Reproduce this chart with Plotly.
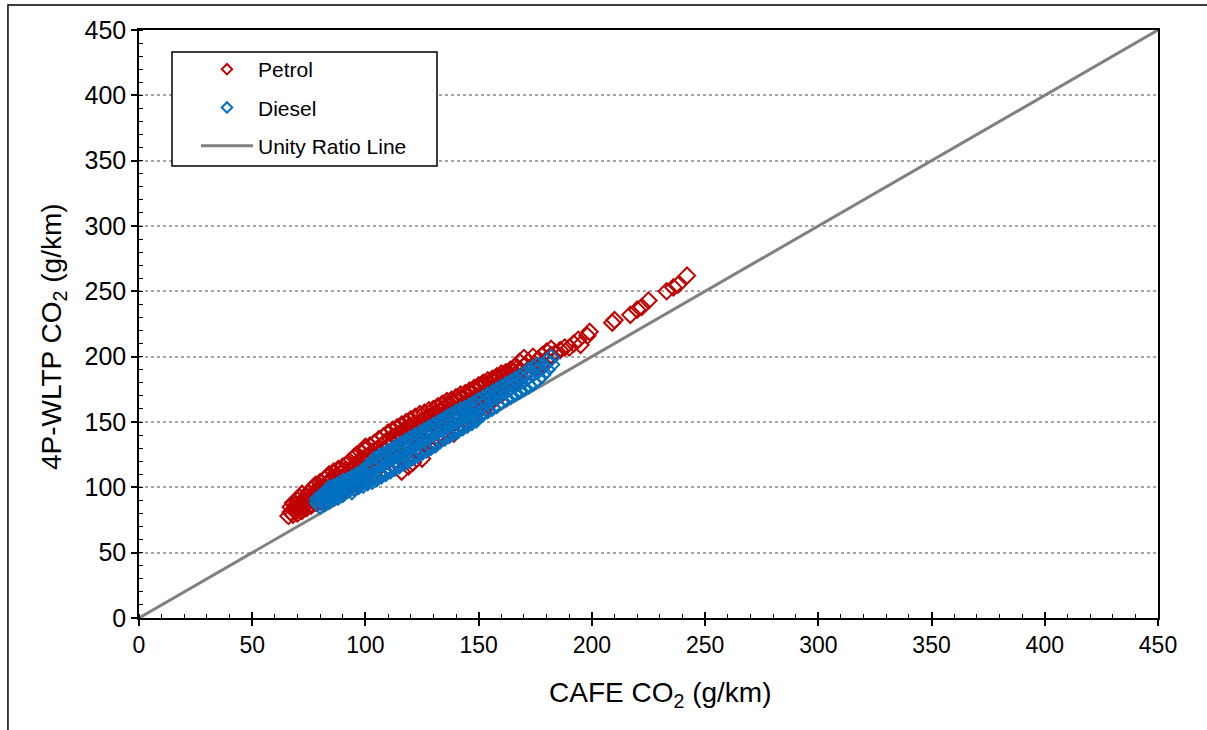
import plotly.graph_objects as go

# Petrol: CAFE CO2 (x) vs 4P-WLTP CO2 (y), g/km
petrol_x = [66, 67, 67, 68, 68, 69, 69, 70, 70, 70,
            71, 71, 72, 72, 72, 73, 73, 74, 74, 74,
            75, 75, 76, 76, 76, 77, 77, 78, 78, 78,
            79, 79, 80, 80, 80, 81, 81, 82, 82, 82,
            83, 83, 84, 84, 84, 85, 85, 86, 86, 86,
            87, 87, 88, 88, 88, 89, 89, 90, 90, 90,
            91, 91, 92, 92, 92, 93, 93, 94, 94, 94,
            95, 95, 96, 96, 96, 97, 97, 98, 98, 98,
            99, 99, 100, 100, 100, 100, 101, 101, 102, 102, 102,
            103, 103, 104, 104, 104, 105, 105, 106, 106, 106,
            107, 107, 108, 108, 108, 109, 109, 110, 110, 110,
            111, 111, 112, 112, 112, 113, 113, 114, 114, 114,
            115, 115, 116, 116, 116, 116, 117, 117, 118, 118, 118,
            119, 119, 120, 120, 120, 121, 121, 121, 122, 122,
            123, 123, 124, 124, 124, 125, 125, 126, 126, 126,
            127, 127, 128, 128, 128, 129, 129, 130, 130, 130,
            131, 131, 132, 132, 132, 133, 133, 134, 134, 134,
            135, 135, 136, 136, 136, 137, 137, 138, 138, 138,
            139, 139, 140, 140, 140, 141, 141, 142, 142, 142,
            143, 143, 144, 144, 144, 145, 145, 146, 146, 146,
            147, 147, 148, 148, 148, 149, 149, 150, 150, 150,
            151, 151, 152, 152, 152, 153, 153, 154, 154, 154,
            155, 155, 156, 156, 156, 157, 157, 158, 158, 158,
            159, 159, 160, 160, 160, 161, 161, 162, 162, 162,
            163, 163, 164, 164, 164, 165, 165, 166, 166, 166,
            167, 167, 168, 168, 168, 170, 170, 170, 172, 172,
            174, 174, 174, 176, 176, 178, 178, 180, 180, 182, 182,
            184, 186, 188,
            190, 192, 194, 195, 198, 199, 209, 210, 217, 220,
            222, 225, 233, 236, 238, 242]
petrol_y = [78, 81, 85, 79, 88, 83, 86, 80, 90, 85,
            84, 92, 87, 82, 95, 90, 85, 93, 88, 84,
            96, 89, 91, 98, 86, 94, 100, 88, 97, 102,
            92, 99, 95, 104, 89, 100, 93, 106, 97, 91,
            102, 108, 95, 104, 110, 99, 107, 112, 102, 96,
            105, 109, 114, 100, 107, 111, 103, 116, 98, 108,
            113, 105, 118, 101, 110, 120, 107, 115, 104, 112,
            123, 109, 117, 103, 125, 112, 120, 127, 106, 116,
            122, 114, 129, 108, 118, 131, 124, 113, 132, 116, 121,
            110, 127, 134, 119, 124, 129, 114, 137, 121, 126,
            117, 132, 139, 124, 129, 120, 135, 142, 126, 131,
            137, 122, 144, 128, 134, 120, 139, 146, 131, 136,
            125, 141, 148, 112, 133, 138, 129, 144, 150, 135, 140,
            116, 146, 152, 131, 141, 119, 137, 148, 154, 143,
            128, 149, 156, 139, 145, 122, 151, 157, 134, 147,
            141, 153, 159, 131, 149, 144, 155, 160, 133, 151,
            138, 157, 162, 146, 153, 140, 159, 164, 149, 155,
            143, 161, 166, 152, 158, 146, 163, 167, 155, 160,
            141, 165, 169, 150, 158, 145, 167, 171, 153, 162,
            148, 169, 172, 157, 164, 151, 171, 174, 160, 166,
            154, 173, 176, 163, 168, 157, 175, 178, 160, 170,
            165, 177, 180, 158, 172, 168, 179, 182, 163, 174,
            170, 180, 183, 166, 176, 172, 182, 185, 169, 178,
            174, 184, 187, 171, 180, 176, 186, 188, 174, 182,
            179, 188, 190, 177, 184, 182, 189, 192, 180, 186,
            184, 191, 196, 183, 188, 186, 193, 199, 189, 196,
            193, 200, 188, 197, 191, 201, 194, 198, 204, 201, 206,
            203, 205, 207,
            207, 210, 213, 209, 216, 219, 226, 228, 232, 236,
            238, 243, 250, 253, 255, 262]

# Diesel
diesel_x = [79, 79, 80, 80, 81, 81, 82, 82, 82, 83, 83,
            84, 84, 84, 85, 85, 86, 86, 86, 87, 87,
            88, 88, 88, 89, 89, 90, 90, 90, 91, 91,
            92, 92, 92, 93, 93, 94, 94, 94, 95, 95,
            96, 96, 96, 97, 97, 98, 98, 98, 99, 99,
            100, 100, 100, 101, 101, 102, 102, 102, 103, 103,
            104, 104, 104, 105, 105, 106, 106, 106, 107, 107,
            108, 108, 108, 109, 109, 110, 110, 110, 111, 111,
            112, 112, 112, 113, 113, 114, 114, 114, 115, 115,
            116, 116, 116, 117, 117, 118, 118, 118, 119, 119,
            120, 120, 120, 121, 121, 122, 122, 122, 123, 123,
            124, 124, 124, 125, 125, 126, 126, 126, 127, 127,
            128, 128, 128, 129, 129, 130, 130, 130, 131, 131,
            132, 132, 132, 133, 133, 134, 134, 134, 135, 135,
            136, 136, 136, 137, 137, 138, 138, 138, 139, 139,
            140, 140, 140, 141, 141, 142, 142, 142, 143, 143,
            144, 144, 144, 145, 145, 146, 146, 146, 147, 147,
            148, 148, 148, 149, 149, 150, 150, 150,
            152, 152, 152, 154, 154, 154, 156, 156, 156,
            158, 158, 158, 160, 160, 160, 162, 162, 162,
            164, 164, 164, 166, 166, 166, 168, 168, 168,
            170, 170, 170, 172, 172, 172, 174, 174, 174,
            176, 176, 176, 178, 178, 180, 180, 182, 182]
diesel_y = [88, 91, 86, 92, 89, 93, 88, 92, 95, 91, 96,
            90, 95, 99, 94, 97, 92, 100, 96, 99, 95,
            102, 93, 99, 98, 101, 95, 104, 100, 101, 97,
            105, 99, 103, 104, 100, 107, 97, 103, 106, 100,
            109, 102, 106, 107, 101, 111, 104, 108, 102, 111,
            114, 106, 110, 104, 113, 116, 108, 112, 105, 115,
            121, 109, 115, 107, 119, 123, 111, 117, 109, 121,
            125, 113, 119, 111, 123, 127, 115, 121, 113, 125,
            129, 117, 123, 115, 127, 131, 119, 125, 117, 129,
            133, 121, 127, 119, 131, 135, 122, 129, 121, 133,
            137, 123, 131, 123, 135, 139, 126, 133, 125, 137,
            141, 128, 135, 127, 139, 143, 130, 137, 129, 141,
            145, 133, 139, 131, 143, 147, 135, 141, 133, 145,
            149, 138, 143, 136, 147, 151, 140, 145, 138, 149,
            153, 142, 147, 140, 151, 155, 144, 149, 142, 153,
            157, 146, 151, 144, 155, 159, 148, 153, 146, 157,
            160, 150, 155, 148, 158, 162, 152, 156, 150, 160,
            164, 153, 158, 152, 162, 166, 155, 160,
            157, 164, 168, 159, 166, 170, 161, 168, 172,
            163, 170, 174, 166, 172, 176, 168, 174, 178,
            170, 176, 180, 172, 178, 182, 174, 180, 184,
            176, 182, 186, 178, 185, 189, 180, 187, 191,
            183, 189, 193, 186, 192, 190, 196, 194, 199]

assert len(petrol_x) == len(petrol_y)
assert len(diesel_x) == len(diesel_y)

unity_x = [0, 450]
unity_y = [0, 450]

RED = "#C00000"
BLUE = "#0070C0"
GREY = "#808080"

fig = go.Figure()
fig.add_trace(go.Scatter(x=unity_x, y=unity_y, mode="lines",
                         line=dict(color=GREY, width=3), showlegend=False, hoverinfo="skip"))
fig.add_trace(go.Scatter(x=petrol_x, y=petrol_y, mode="markers",
                         marker=dict(symbol="diamond-open", size=12.5, color=RED,
                                     line=dict(width=2, color=RED)), showlegend=False))
fig.add_trace(go.Scatter(x=diesel_x, y=diesel_y, mode="markers",
                         marker=dict(symbol="diamond-open", size=12.5, color=BLUE,
                                     line=dict(width=2, color=BLUE)), showlegend=False))
# legend entries
fig.add_trace(go.Scatter(x=[None], y=[None], mode="markers", name="Petrol", legendgroup="a",
                         marker=dict(symbol="diamond-open", size=8, color=RED,
                                     line=dict(width=2, color=RED))))
fig.add_trace(go.Scatter(x=[None], y=[None], mode="markers", name="Diesel", legendgroup="b",
                         marker=dict(symbol="diamond-open", size=8, color=BLUE,
                                     line=dict(width=2, color=BLUE))))
fig.add_trace(go.Scatter(x=[None], y=[None], mode="lines", name="Unity Ratio Line", legendgroup="c",
                         line=dict(color=GREY, width=3)))
# helper trace for the inside half of the crossing x ticks
fig.add_trace(go.Scatter(x=[None], y=[None], xaxis="x2", showlegend=False, hoverinfo="skip"))

FONT = "Liberation Sans, Arial, sans-serif"
axis_common = dict(showline=True, linecolor="black", linewidth=1.5, mirror=True,
                   ticks="outside", ticklen=6, tickwidth=1.5, tickcolor="black",
                   zeroline=False, range=[0, 450], dtick=50, tick0=0,
                   minor=dict(ticks="inside", dtick=10, ticklen=4, tickwidth=1, tickcolor="black"))


# plot area: x 139..1158 px, y 30..618 px
def px_x(p):
    return (p - 139) / 1019.0


def px_y(p):
    return (618 - p) / 588.0


fig.update_layout(
    width=1207, height=730,
    margin=dict(l=139, r=49, t=30, b=112),
    paper_bgcolor="white", plot_bgcolor="white",
    font=dict(family=FONT, color="black"),
    xaxis=dict(**axis_common, showgrid=False,
               tickfont=dict(family=FONT, size=23, color="black")),
    xaxis2=dict(overlaying="x", anchor="y", side="bottom", range=[0, 450], dtick=50, tick0=0,
                ticks="inside", ticklen=6, tickwidth=1.5, tickcolor="black",
                showticklabels=False, showgrid=False, zeroline=False, showline=False),
    yaxis=dict(**axis_common, showgrid=True, gridcolor="#A6A6A6", gridwidth=1.5, griddash="dot",
               tickfont=dict(family=FONT, size=25, color="black")),
    legend=dict(x=px_x(196), y=px_y(49), xanchor="left", yanchor="top",
                bgcolor="rgba(0,0,0,0)", borderwidth=0,
                font=dict(family=FONT, size=21), tracegroupgap=8, itemwidth=52,
                traceorder="grouped"),
    annotations=[
        dict(text="CAFE CO<sub>2</sub> (g/km)", xref="paper", yref="paper",
             x=px_x(660), y=px_y(694), xanchor="center", yanchor="middle",
             showarrow=False, font=dict(family=FONT, size=28, color="black")),
        dict(text="4P-WLTP CO<sub>2</sub> (g/km)", xref="paper", yref="paper",
             x=px_x(53), y=px_y(337), xanchor="center", yanchor="middle", textangle=-90,
             showarrow=False, font=dict(family=FONT, size=28, color="black")),
    ],
    shapes=[dict(type="rect", xref="paper", yref="paper",
                 x0=-0.1286, x1=1.06, y0=-0.21, y1=1.0425,
                 line=dict(color="black", width=1.5), fillcolor="rgba(0,0,0,0)", layer="below"),
            dict(type="rect", xref="paper", yref="paper",
                 x0=px_x(172), x1=px_x(437), y0=px_y(166), y1=px_y(52),
                 line=dict(color="black", width=1.5), fillcolor="white", layer="above")],
)

fig.write_html("out.html")
